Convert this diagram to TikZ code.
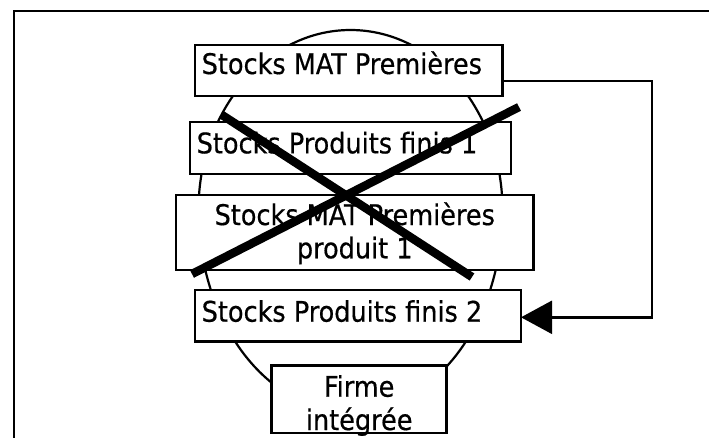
\documentclass[tikz,border=0pt]{standalone}
\usepackage{fontspec}
\setmainfont{DejaVu Sans Condensed}[FakeBold=0.5]
\usetikzlibrary{arrows.meta}
\newcommand\onetxt[3]{\raisebox{#1}[0pt][0pt]{\makebox[#2][l]{#3}}}
\newcommand\twotxt[3]{\raisebox{#1}[0pt][0pt]{\parbox[t]{#2}{\centering #3}}}
\begin{document}
\begin{tikzpicture}[x=1pt,y=-1pt,
  stockbox/.style={draw, line width=2.5pt, fill=white, inner sep=0pt, outer sep=0pt,
    font=\fontsize{28.4}{33.3}\selectfont},
  ovalline/.style={draw, line width=2.2pt, fill=white},
  crossline/.style={line width=8.5pt, line cap=butt},
  flowline/.style={line width=2.4pt, -{Triangle[length=31pt,width=33pt]}},
  frameline/.style={line width=2.6pt}]
\useasboundingbox (0,0) rectangle (709,437);
\clip (0,0) rectangle (709,437);
\fill[white] (0,0) rectangle (709,437);
\draw[frameline] (14,11) rectangle (740,470);
% oval
\path[ovalline] (198.5,210) arc[start angle=180,end angle=0,x radius=152pt,y radius=180pt]
  arc[start angle=0,end angle=-180,x radius=152pt,y radius=202pt] -- cycle;
% boxes
\node[stockbox, minimum width=307.7pt, minimum height=51pt] (b1) at (348.85,70.5)
  {\onetxt{-3.5pt}{294.3pt}{Stocks MAT Premières}};
\node[stockbox, minimum width=321pt, minimum height=52pt] (b2) at (350.5,147.75)
  {\onetxt{-5.6pt}{307.6pt}{Stocks Produits finis 1}};
\node[stockbox, minimum width=357.5pt, minimum height=75pt] (b3) at (354.75,232.5)
  {\twotxt{7.5pt}{345pt}{Stocks MAT Premières\\produit 1}};
\node[stockbox, minimum width=326pt, minimum height=51.7pt] (b4) at (358,315.85)
  {\onetxt{-5.85pt}{312.6pt}{Stocks Produits finis 2}};
\node[stockbox, minimum width=175pt, minimum height=67.5pt] (b5) at (359.2,399.4)
  {\twotxt{2.7pt}{170pt}{Firme\hspace*{20pt}\\intégrée}};
% cross
\draw[crossline] (222,115) -- (472,277);
\draw[crossline] (519,107) -- (192,274);
% connector
\coordinate (turn) at (651.7,317.3);
\draw[flowline] ([yshift=-10.2pt]b1.east) -| (turn) -- ([yshift=-1.45pt]b4.east);
\end{tikzpicture}
\end{document}
